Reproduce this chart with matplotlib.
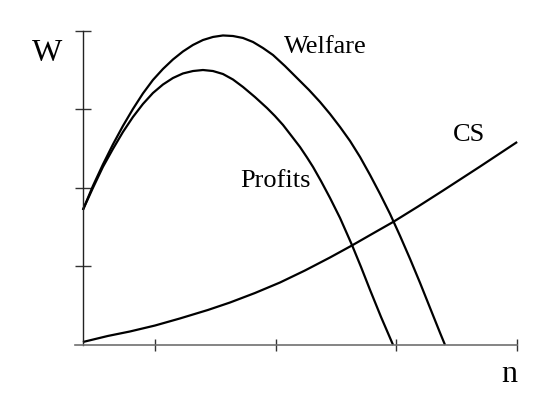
import matplotlib
matplotlib.use("Agg")
import matplotlib.pyplot as plt

# ---------------- DATA ----------------
# n axis: one tick step = 1.0, ticks at 0.6 .. 3.6 ; W axis ticks at 1..4
welfare_n = [0.000, 0.083, 0.166, 0.249, 0.332, 0.415, 0.498, 0.581, 0.664,
             0.747, 0.830, 0.913, 0.996, 1.079, 1.162, 1.245, 1.328, 1.411,
             1.494, 1.577, 1.676, 1.776, 1.876, 1.967, 2.050, 2.133, 2.216,
             2.299, 2.382, 2.465, 2.548, 2.631, 2.714, 2.797, 2.880, 2.963,
             3.004]
welfare_w = [1.720, 2.025, 2.299, 2.554, 2.790, 3.006, 3.204, 3.376, 3.516,
             3.637, 3.739, 3.822, 3.885, 3.924, 3.943, 3.936, 3.911, 3.860,
             3.783, 3.694, 3.554, 3.401, 3.248, 3.096, 2.943, 2.777, 2.599,
             2.395, 2.166, 1.924, 1.669, 1.389, 1.096, 0.790, 0.471, 0.153,
             0.000]

profit_n = [0.000, 0.083, 0.166, 0.249, 0.332, 0.415, 0.498, 0.581, 0.664,
            0.747, 0.830, 0.913, 0.996, 1.079, 1.162, 1.245, 1.328, 1.427,
            1.527, 1.593, 1.660, 1.734, 1.801, 1.859, 1.909, 1.975, 2.050,
            2.133, 2.232, 2.307, 2.382, 2.473, 2.573]
profit_w = [1.720, 2.000, 2.268, 2.497, 2.713, 2.904, 3.070, 3.210, 3.318,
            3.401, 3.459, 3.490, 3.503, 3.490, 3.452, 3.382, 3.287, 3.159,
            3.019, 2.917, 2.803, 2.656, 2.522, 2.389, 2.268, 2.089, 1.873,
            1.618, 1.274, 0.994, 0.701, 0.357, 0.000]

cs_n = [0.000, 0.207, 0.390, 0.598, 0.805, 1.037, 1.220, 1.427, 1.635,
        1.842, 2.050, 2.232, 2.398, 2.573, 2.780, 2.988, 3.295, 3.602]
cs_w = [0.038, 0.115, 0.172, 0.248, 0.338, 0.446, 0.541, 0.662, 0.796,
        0.949, 1.115, 1.268, 1.414, 1.567, 1.764, 1.968, 2.274, 2.586]

x_ticks = [0.6, 1.6, 2.6, 3.6]
y_ticks = [1, 2, 3, 4]

# ---------------- PLOT ----------------
fig = plt.figure(figsize=(5.39, 4.11), dpi=100)
ax = fig.add_axes([0.139, 0.1606, 0.820, 0.764])

for xs, ys in [(welfare_n, welfare_w), (profit_n, profit_w), (cs_n, cs_w)]:
    ax.plot(xs, ys, color="black", lw=1.6, clip_on=False,
            solid_capstyle="butt", solid_joinstyle="round")

ax.set_xlim(-0.066, 3.6)
ax.set_ylim(0, 4)

ax.spines["top"].set_visible(False)
ax.spines["right"].set_visible(False)
ax.spines["left"].set_position(("data", 0))
ax.spines["left"].set_color("#222222")
ax.spines["left"].set_linewidth(1.0)
ax.spines["bottom"].set_color("#707070")
ax.spines["bottom"].set_linewidth(1.2)

ax.set_xticks(x_ticks)
ax.set_yticks(y_ticks)
ax.set_xticklabels([])
ax.set_yticklabels([])
ax.tick_params(axis="x", direction="inout", length=9, width=1.0, color="#333333")
ax.tick_params(axis="y", direction="inout", length=12, width=1.0, color="#333333")

serif = ["Liberation Serif", "DejaVu Serif"]
ax.text(-0.30, 3.62, "W", fontsize=23, family=serif, ha="center", va="baseline")
ax.text(3.54, -0.47, "n", fontsize=23, family=serif, ha="center", va="baseline")
ax.text(2.01, 3.72, "Welfare", fontsize=19, family=serif, ha="center", va="baseline")
ax.text(1.60, 2.01, "Profits", fontsize=19, family=serif, ha="center", va="baseline")
ax.text(3.20, 2.60, "CS", fontsize=19, family=serif, ha="center", va="baseline")

fig.savefig("out.png", dpi=100)
